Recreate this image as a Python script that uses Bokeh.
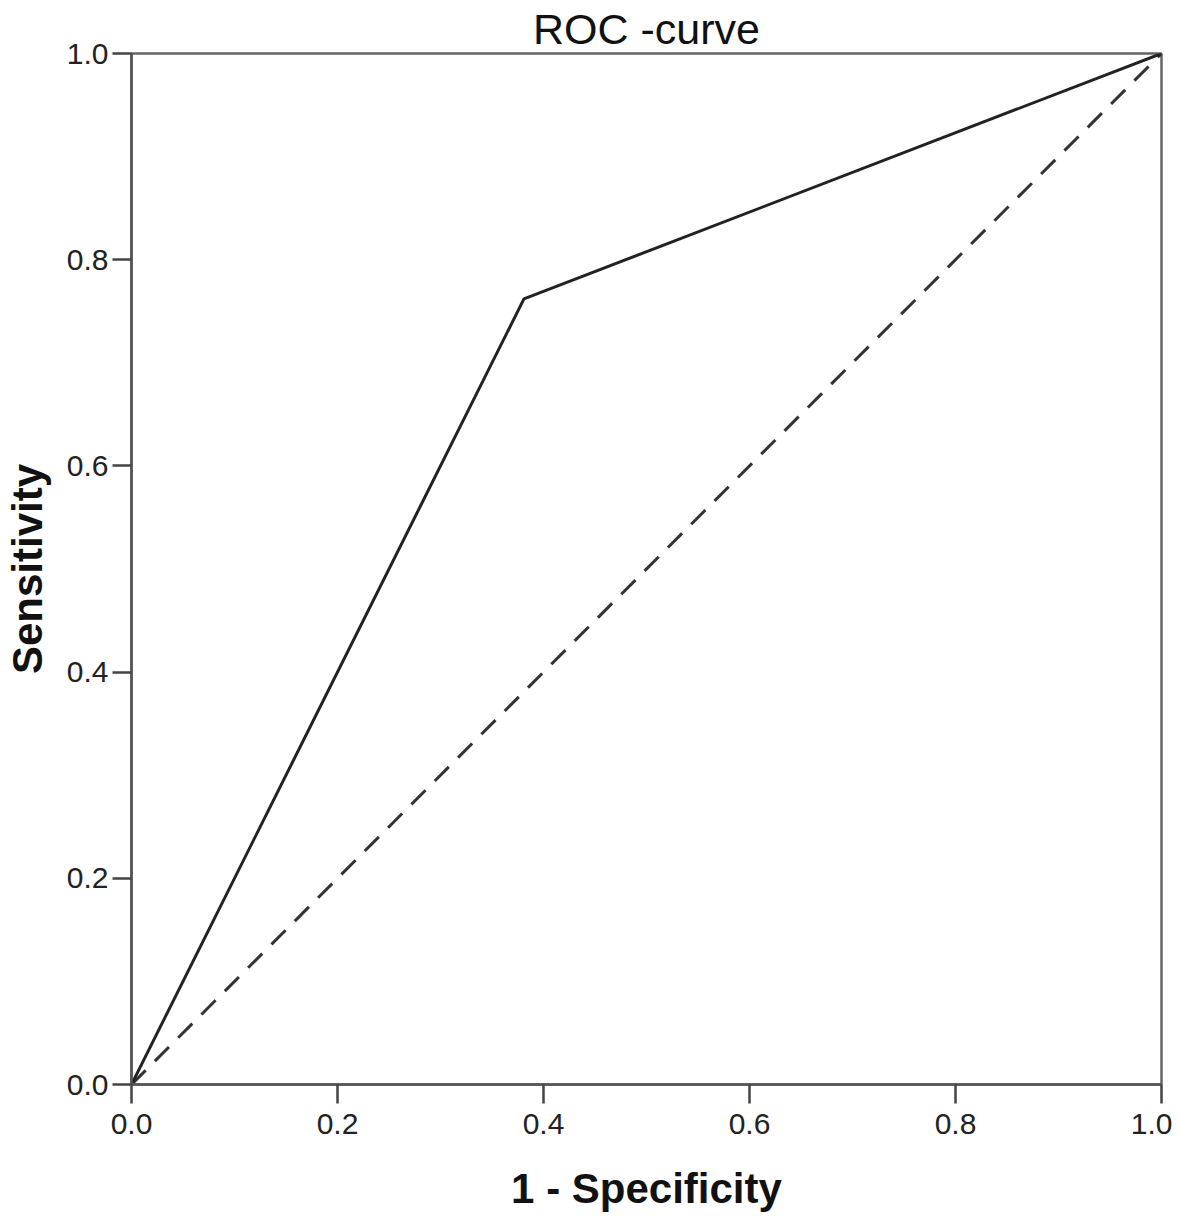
from bokeh.plotting import figure
from bokeh.embed import file_html
from bokeh.resources import INLINE
from bokeh.models import FixedTicker, Range1d, CustomJSTickFormatter

# Data
fpr = [0.0, 0.381, 1.0]
tpr = [0.0, 0.762, 1.0]
ref_x = [0.0, 1.0]
ref_y = [0.0, 1.0]
ticks = [0.0, 0.2, 0.4, 0.6, 0.8, 1.0]
title_text = "ROC -curve"
x_title = "1 - Specificity"
y_title = "Sensitivity"

FONT = "Liberation Sans"

p = figure(width=1172, height=1216, output_backend="svg", toolbar_location=None,
           x_range=Range1d(0, 1), y_range=Range1d(0, 1),
           title=title_text, min_border_left=131, min_border_right=11,
           min_border_top=53, min_border_bottom=132)
p.title.align = "center"
p.title.text_font = FONT
p.title.text_font_style = "normal"
p.title.text_font_size = "43px"
p.title.text_color = "#111111"
p.title.offset = 10
p.title.standoff = 2

p.grid.visible = False
p.background_fill_color = "white"
p.border_fill_color = "white"
p.outline_line_color = "#666666"
p.outline_line_width = 2.5
p.outline_line_alpha = 1.0

for ax in (p.xaxis[0], p.yaxis[0]):
    ax.ticker = FixedTicker(ticks=ticks)
    ax.formatter = CustomJSTickFormatter(code="return tick.toFixed(1);")
    ax.axis_line_color = "#555555"
    ax.axis_line_width = 2.5
    ax.major_tick_line_color = "#444444"
    ax.major_tick_line_width = 2.5
    ax.major_tick_out = 19
    ax.major_tick_in = 0
    ax.minor_tick_line_color = None
    ax.major_label_text_font = FONT
    ax.major_label_text_font_size = "30px"
    ax.major_label_text_color = "#222222"
    ax.axis_label_text_font = FONT
    ax.axis_label_text_font_style = "bold"
    ax.axis_label_text_font_size = "42px"
    ax.axis_label_text_color = "#111111"

p.xaxis.axis_label = x_title
p.yaxis.axis_label = y_title
p.xaxis.major_label_standoff = 10
p.yaxis.major_label_standoff = 4
p.xaxis.axis_label_standoff = 28
p.yaxis.axis_label_standoff = 13

p.line(ref_x, ref_y, line_color="#333333", line_width=3, line_dash="20 13")
p.line(fpr, tpr, line_color="#222222", line_width=3)

open("out.html", "w").write(file_html(p, INLINE))
